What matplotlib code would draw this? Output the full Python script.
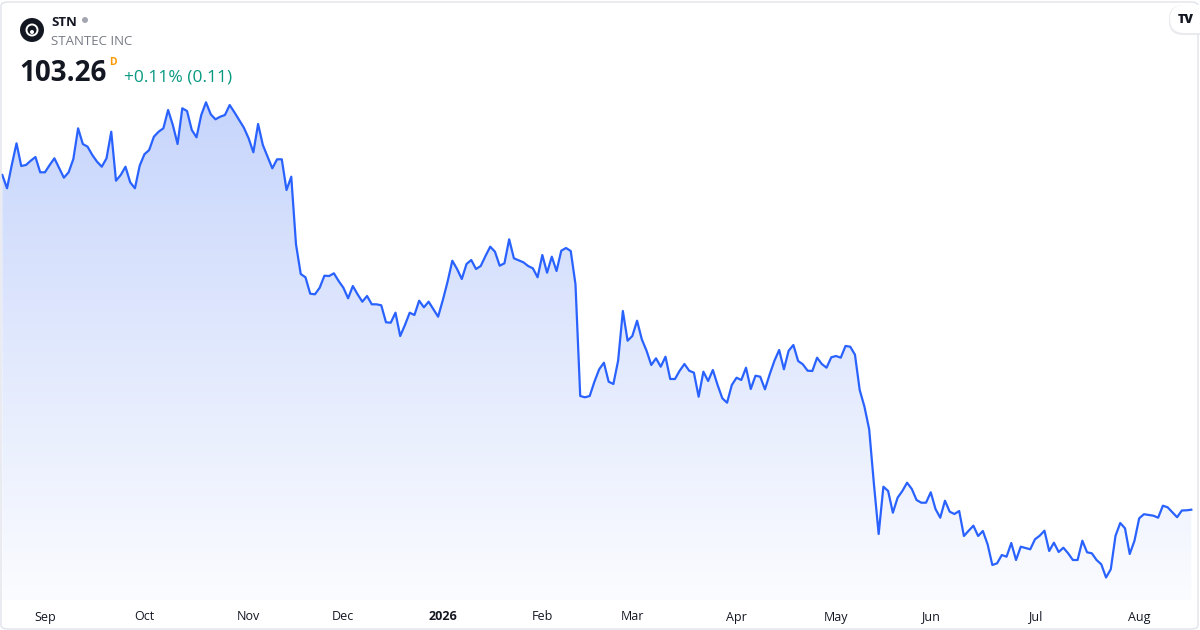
import numpy as np
import matplotlib.pyplot as plt
from matplotlib.colors import LinearSegmentedColormap
from matplotlib.patches import Circle, FancyBboxPatch, Polygon
from matplotlib.transforms import IdentityTransform

plt.rcParams['font.family'] = ['Open Sans', 'DejaVu Sans']

# Daily closes, STN (Stantec Inc)
prices = [
    136.73, 135.40, 137.73, 139.90, 137.63, 137.73, 138.16, 138.53, 137.00, 137.00,
    137.73, 138.40, 137.43, 136.46, 137.00, 138.33, 141.40, 139.83, 139.56, 138.73,
    138.06, 137.56, 138.40, 141.06, 136.16, 136.73, 137.56, 136.00, 135.40, 137.66,
    138.80, 139.23, 140.56, 141.06, 141.40, 143.23, 141.73, 139.83, 143.40, 143.13,
    141.23, 140.50, 142.73, 144.00, 142.80, 142.30, 142.56, 142.73, 143.73, 143.00,
    142.23, 141.46, 140.40, 139.00, 141.83, 139.73, 138.56, 137.40, 138.30, 138.30,
    135.23, 136.56, 129.80, 126.83, 126.50, 124.86, 124.80, 125.46, 126.66, 126.63,
    126.90, 126.13, 125.46, 124.40, 125.63, 124.80, 124.06, 124.63, 123.80, 123.80,
    123.70, 122.00, 121.96, 122.96, 120.63, 121.73, 122.96, 122.73, 124.16, 123.50,
    124.06, 123.30, 122.56, 124.23, 126.06, 128.16, 127.33, 126.33, 127.83, 128.23,
    127.33, 127.63, 128.63, 129.56, 129.06, 127.66, 127.90, 130.30, 128.40, 128.20,
    128.00, 127.63, 127.40, 126.50, 128.73, 126.96, 128.56, 127.13, 129.16, 129.43,
    129.13, 125.80, 114.63, 114.50, 114.63, 116.06, 117.30, 117.96, 116.06, 115.83,
    118.16, 123.13, 120.16, 120.63, 122.16, 120.30, 119.16, 117.73, 118.40, 117.56,
    118.56, 116.33, 116.33, 117.16, 117.83, 117.16, 116.96, 114.56, 117.06, 116.13,
    117.23, 115.73, 114.40, 113.96, 115.73, 116.46, 116.23, 117.46, 115.33, 116.66,
    116.56, 115.30, 116.80, 118.16, 119.23, 117.30, 119.16, 119.73, 118.13, 117.80,
    117.16, 117.13, 118.46, 117.83, 117.46, 118.50, 118.63, 118.46, 119.63, 119.56,
    118.76, 115.23, 113.56, 111.30, 105.83, 100.83, 105.56, 105.13, 102.96, 104.46,
    105.13, 105.96, 105.33, 104.23, 103.96, 103.96, 105.00, 103.33, 102.46, 104.16,
    103.06, 102.83, 103.13, 100.63, 101.16, 101.66, 100.63, 101.13, 99.80, 97.73,
    97.90, 98.73, 98.56, 99.93, 98.23, 99.56, 99.43, 99.30, 100.30, 100.66,
    101.16, 99.13, 99.96, 99.03, 99.46, 98.90, 98.23, 98.23, 100.16, 99.00,
    98.90, 98.23, 97.80, 96.48, 97.30, 100.65, 101.93, 101.40, 98.83, 100.15,
    102.40, 102.81, 102.73, 102.66, 102.46, 103.66, 103.50, 103.00, 102.51, 103.18,
    103.20, 103.26,
]

# first bar of each month (bar index) and its label
month_idx = [9, 30, 52, 72, 93, 114, 133, 155, 176, 196, 218, 240]
month_lbl = ['Sep', 'Oct', 'Nov', 'Dec', '2026', 'Feb', 'Mar', 'Apr', 'May', 'Jun', 'Jul', 'Aug']

ticker = 'STN'
company = 'STANTEC INC'
last_price = '103.26'
change_txt = '+0.11% (0.11)'

W, H = 1200, 630
fig = plt.figure(figsize=(W / 100, H / 100), dpi=100)
fig.patch.set_facecolor('white')
px = IdentityTransform()  # pixel coords, origin bottom-left


def fx(x):
    return x / W


def fy(y):
    return 1 - y / H


def dot(x, y, r, **kw):
    # circle given in top-left pixel coords
    fig.patches.append(Circle((x, H - y), r, transform=px, **kw))


# plot area: whole width, top of figure down to y=600 px
ax = fig.add_axes([0, fy(600), 1, 600 / H])
ax.set_facecolor('none')
x = np.arange(len(prices))
step = 4.737
ax.set_xlim(-2.3 / step, len(prices) - 1 + (W - 1191.3) / step)
ylo, yhi = 94.23, 154.23
ax.set_ylim(ylo, yhi)

line_col = '#2962FF'
cmap = LinearSegmentedColormap.from_list('fade', ['#BCCDFC', '#DCE5FD', '#FBFCFF'])
grad = np.linspace(0, 1, 256).reshape(-1, 1)
im = ax.imshow(grad, cmap=cmap, aspect='auto', origin='upper',
               extent=[ax.get_xlim()[0], ax.get_xlim()[1], ylo, yhi], zorder=1)
verts = [(x[0], ylo)] + list(zip(x, prices)) + [(x[-1], ylo)]
poly = Polygon(verts, closed=True, facecolor='none', edgecolor='none')
ax.add_patch(poly)
im.set_clip_path(poly)
ax.plot(x, prices, color=line_col, lw=1.6, solid_joinstyle='round', zorder=3)

for s in ax.spines.values():
    s.set_visible(False)
ax.set_yticks([])
ax.set_xticks([])

# month labels under the chart
for i, lab in zip(month_idx, month_lbl):
    xp = ax.transData.transform((i, ylo))[0]
    fig.text(xp / W, fy(617), lab, ha='center', va='center', fontsize=9,
             color='#131722', fontweight='bold' if lab == '2026' else 'normal')

# outer frame
fig.patches.append(FancyBboxPatch((fx(1), fy(629)), fx(1197), 627 / H,
                                  boxstyle='round,pad=0,rounding_size=0.006',
                                  transform=fig.transFigure, facecolor='none',
                                  edgecolor='#E0E3EB', lw=1))

# header: logo, name, price
dot(32, 30, 12, facecolor='#131722', edgecolor='none')
dot(32, 30, 5.5, facecolor='none', edgecolor='white', lw=1.4)
dot(32, 32, 2, facecolor='white', edgecolor='none')
fig.text(fx(51), fy(26), ticker, fontsize=9.5, fontweight='bold', color='#131722')
dot(85, 20, 3, facecolor='#A3A6AF', edgecolor='none')
fig.text(fx(51), fy(45), company, fontsize=9.5, color='#787B86')
fig.text(fx(19), fy(81), last_price, fontsize=20, fontweight='bold', color='#131722')
fig.text(fx(109), fy(65), 'D', fontsize=7.5, fontweight='bold', color='#FF9800')
fig.text(fx(124), fy(81), change_txt, fontsize=12.5, color='#089981')

# TradingView badge, top right
fig.patches.append(FancyBboxPatch((1169, H - 35), 45, 30,
                                  boxstyle='round,pad=0,rounding_size=14',
                                  transform=px, facecolor='#E9EAEE',
                                  edgecolor='none'))
fig.patches.append(FancyBboxPatch((1170, H - 33), 45, 28,
                                  boxstyle='round,pad=0,rounding_size=14',
                                  transform=px, facecolor='white',
                                  edgecolor='none'))
fig.text(fx(1186), fy(20), 'TV', fontsize=9, fontweight='black', color='#131722',
         ha='center', va='center')

fig.savefig('out.png', dpi=100, facecolor='white')
